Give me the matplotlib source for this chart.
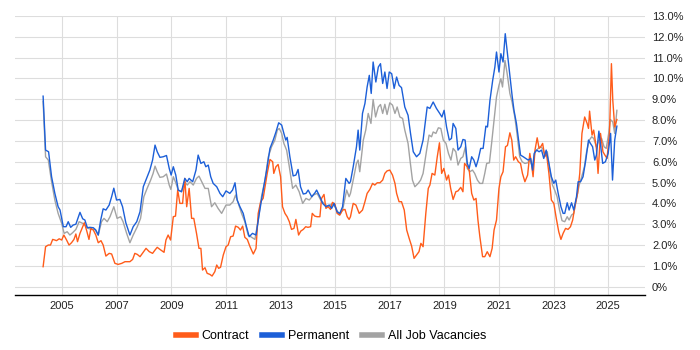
import matplotlib
matplotlib.use("Agg")
import matplotlib.pyplot as plt
from matplotlib.lines import Line2D

plt.rcParams['font.family'] = ['Liberation Sans', 'DejaVu Sans']

# ---- data (decimal years, percent) ----
perm_t = [2004.30, 2004.39, 2004.50, 2004.61, 2004.73, 2004.85, 2004.92, 2005.04, 2005.14, 2005.22,
          2005.31, 2005.40, 2005.50, 2005.65, 2005.75, 2005.83, 2005.92, 2006.01, 2006.14, 2006.23,
          2006.32, 2006.41, 2006.50, 2006.60, 2006.72, 2006.81, 2006.89, 2006.99, 2007.11, 2007.21,
          2007.33, 2007.48, 2007.60, 2007.73, 2007.85, 2007.97, 2008.09, 2008.21, 2008.31, 2008.40,
          2008.48, 2008.58, 2008.70, 2008.82, 2008.92, 2008.99, 2009.07, 2009.16, 2009.25, 2009.37,
          2009.49, 2009.58, 2009.65, 2009.78, 2009.90, 2009.98, 2010.08, 2010.19, 2010.26, 2010.35,
          2010.44, 2010.53, 2010.66, 2010.78, 2010.88, 2011.00, 2011.14, 2011.24, 2011.33, 2011.41,
          2011.51, 2011.63, 2011.75, 2011.85, 2011.97, 2012.10, 2012.22, 2012.34, 2012.49, 2012.61,
          2012.73, 2012.83, 2012.93, 2013.04, 2013.12, 2013.19, 2013.24, 2013.34, 2013.46, 2013.56,
          2013.64, 2013.73, 2013.83, 2013.93, 2014.01, 2014.14, 2014.26, 2014.32, 2014.44, 2014.54,
          2014.66, 2014.78, 2014.87, 2014.96, 2015.07, 2015.17, 2015.27, 2015.39, 2015.51, 2015.56,
          2015.66, 2015.78, 2015.84, 2015.90, 2016.00, 2016.09, 2016.17, 2016.25, 2016.32, 2016.39,
          2016.49, 2016.58, 2016.66, 2016.74, 2016.82, 2016.90, 2016.98, 2017.07, 2017.16, 2017.25,
          2017.34, 2017.43, 2017.55, 2017.67, 2017.76, 2017.86, 2017.98, 2018.10, 2018.22, 2018.37,
          2018.47, 2018.59, 2018.71, 2018.83, 2018.91, 2018.99, 2019.08, 2019.18, 2019.26, 2019.32,
          2019.42, 2019.50, 2019.60, 2019.68, 2019.76, 2019.84, 2019.91, 2020.00, 2020.08, 2020.16,
          2020.24, 2020.33, 2020.42, 2020.52, 2020.58, 2020.67, 2020.77, 2020.85, 2020.91, 2021.00,
          2021.07, 2021.15, 2021.23, 2021.31, 2021.40, 2021.48, 2021.55, 2021.64, 2021.71, 2021.79,
          2021.89, 2021.98, 2022.07, 2022.16, 2022.23, 2022.29, 2022.38, 2022.47, 2022.56, 2022.64,
          2022.73, 2022.83, 2022.92, 2023.01, 2023.08, 2023.17, 2023.27, 2023.35, 2023.41, 2023.50,
          2023.57, 2023.66, 2023.74, 2023.84, 2023.90, 2023.99, 2024.08, 2024.18, 2024.28, 2024.35,
          2024.43, 2024.51, 2024.57, 2024.66, 2024.73, 2024.80, 2024.90, 2025.00, 2025.09, 2025.16,
          2025.24, 2025.32]
perm_v = [9.15, 6.56, 6.48, 5.28, 4.48, 3.84, 3.68, 2.88, 2.88, 3.12,
          2.85, 2.96, 3.00, 3.57, 3.26, 3.20, 2.83, 2.85, 2.83, 2.72,
          2.48, 3.20, 3.74, 3.68, 3.92, 4.32, 4.73, 4.16, 4.19, 3.84,
          3.07, 2.48, 2.88, 3.12, 3.60, 4.80, 5.20, 5.60, 6.08, 6.80,
          6.48, 6.21, 6.24, 6.30, 5.68, 5.36, 5.76, 5.36, 4.64, 4.56,
          5.20, 5.04, 5.20, 5.04, 5.60, 6.32, 5.92, 6.00, 5.76, 5.84,
          5.28, 4.96, 4.80, 4.48, 4.32, 4.60, 4.48, 4.64, 4.99, 4.16,
          3.84, 3.52, 2.88, 2.40, 2.56, 2.48, 3.52, 4.48, 5.60, 6.64,
          7.04, 7.43, 7.87, 7.76, 7.36, 7.04, 7.17, 6.24, 5.32, 5.36,
          5.63, 4.80, 4.45, 4.48, 4.64, 4.32, 4.51, 4.64, 4.32, 4.00,
          3.84, 3.92, 3.76, 4.00, 3.60, 3.52, 3.84, 5.20, 4.96, 5.04,
          5.76, 6.72, 7.52, 6.56, 8.32, 8.80, 9.59, 10.15, 9.28, 10.79,
          9.83, 10.55, 10.71, 9.76, 10.31, 9.52, 10.31, 10.23, 9.52, 10.07,
          9.67, 9.56, 8.63, 8.23, 7.36, 6.48, 6.24, 6.40, 7.04, 8.63,
          8.56, 8.87, 8.56, 8.32, 8.15, 8.47, 7.67, 7.04, 7.12, 7.84,
          7.60, 6.56, 6.72, 7.07, 7.04, 5.92, 5.68, 6.24, 6.08, 5.76,
          6.11, 6.64, 6.64, 7.71, 7.67, 8.95, 9.91, 10.55, 11.27, 10.31,
          11.19, 10.79, 12.15, 11.19, 10.07, 9.19, 8.47, 7.84, 7.12, 6.32,
          6.24, 6.16, 6.08, 6.16, 5.60, 6.40, 6.56, 6.48, 6.56, 6.16,
          6.56, 5.92, 5.28, 4.96, 5.12, 4.48, 3.84, 3.52, 3.52, 4.03,
          3.68, 4.03, 3.68, 4.32, 5.04, 5.04, 5.28, 6.08, 7.04, 6.88,
          6.72, 6.08, 6.32, 7.47, 6.72, 5.92, 6.00, 6.40, 7.36, 5.12,
          7.04, 7.71]

contract_t = [2004.30, 2004.39, 2004.49, 2004.57, 2004.65, 2004.73, 2004.79, 2004.89, 2004.98, 2005.06,
              2005.16, 2005.25, 2005.34, 2005.43, 2005.50, 2005.56, 2005.65, 2005.75, 2005.81, 2005.89,
              2005.98, 2006.05, 2006.14, 2006.23, 2006.32, 2006.42, 2006.50, 2006.60, 2006.72, 2006.81,
              2006.93, 2007.05, 2007.18, 2007.30, 2007.48, 2007.58, 2007.66, 2007.75, 2007.85, 2007.94,
              2008.07, 2008.19, 2008.31, 2008.40, 2008.48, 2008.58, 2008.73, 2008.80, 2008.88, 2008.97,
              2009.07, 2009.15, 2009.23, 2009.31, 2009.41, 2009.49, 2009.56, 2009.65, 2009.74, 2009.82,
              2009.92, 2010.01, 2010.08, 2010.14, 2010.23, 2010.31, 2010.41, 2010.49, 2010.59, 2010.66,
              2010.73, 2010.80, 2010.90, 2011.00, 2011.08, 2011.17, 2011.26, 2011.35, 2011.45, 2011.53,
              2011.61, 2011.69, 2011.78, 2011.88, 2012.00, 2012.10, 2012.18, 2012.27, 2012.36, 2012.43,
              2012.51, 2012.61, 2012.71, 2012.75, 2012.83, 2012.91, 2013.00, 2013.07, 2013.16, 2013.24,
              2013.32, 2013.40, 2013.49, 2013.56, 2013.66, 2013.74, 2013.83, 2013.92, 2014.00, 2014.10,
              2014.16, 2014.25, 2014.34, 2014.44, 2014.50, 2014.59, 2014.66, 2014.74, 2014.83, 2014.90,
              2014.99, 2015.07, 2015.17, 2015.27, 2015.36, 2015.44, 2015.51, 2015.56, 2015.66, 2015.76,
              2015.88, 2016.00, 2016.09, 2016.17, 2016.27, 2016.37, 2016.45, 2016.54, 2016.64, 2016.74,
              2016.82, 2016.90, 2017.00, 2017.10, 2017.19, 2017.25, 2017.34, 2017.43, 2017.53, 2017.62,
              2017.71, 2017.80, 2017.89, 2017.98, 2018.07, 2018.14, 2018.22, 2018.32, 2018.41, 2018.47,
              2018.55, 2018.65, 2018.74, 2018.82, 2018.90, 2018.98, 2019.08, 2019.15, 2019.23, 2019.32,
              2019.42, 2019.50, 2019.60, 2019.68, 2019.74, 2019.84, 2019.91, 2020.00, 2020.08, 2020.16,
              2020.23, 2020.30, 2020.40, 2020.48, 2020.57, 2020.67, 2020.75, 2020.82, 2020.91, 2021.00,
              2021.07, 2021.15, 2021.24, 2021.31, 2021.40, 2021.47, 2021.54, 2021.61, 2021.71, 2021.79,
              2021.86, 2021.95, 2022.05, 2022.13, 2022.19, 2022.25, 2022.32, 2022.40, 2022.47, 2022.53,
              2022.60, 2022.68, 2022.74, 2022.83, 2022.92, 2023.01, 2023.10, 2023.19, 2023.27, 2023.35,
              2023.44, 2023.53, 2023.62, 2023.70, 2023.78, 2023.88, 2023.96, 2024.04, 2024.14, 2024.23,
              2024.28, 2024.32, 2024.41, 2024.47, 2024.57, 2024.63, 2024.72, 2024.81, 2024.88, 2024.96,
              2025.05, 2025.12, 2025.17, 2025.24, 2025.32]
contract_v = [0.96, 1.92, 2.00, 2.00, 2.27, 2.24, 2.21, 2.30, 2.24, 2.48,
              2.24, 2.00, 2.11, 2.27, 2.53, 2.16, 2.56, 2.88, 3.07, 2.72,
              2.27, 2.80, 2.72, 2.48, 2.11, 2.21, 2.00, 1.47, 1.60, 1.57,
              1.12, 1.07, 1.12, 1.20, 1.20, 1.31, 1.60, 1.55, 1.44, 1.60,
              1.84, 1.68, 1.60, 1.76, 1.89, 1.79, 1.65, 2.24, 2.48, 2.24,
              3.36, 3.39, 4.64, 4.00, 4.00, 5.20, 3.84, 4.72, 3.28, 3.28,
              2.56, 1.84, 1.84, 0.80, 0.91, 0.64, 0.59, 0.51, 0.72, 1.04,
              0.88, 0.93, 1.52, 1.92, 2.00, 2.40, 2.43, 2.91, 2.85, 2.72,
              2.91, 2.37, 2.27, 1.92, 1.57, 1.84, 3.52, 4.08, 4.24, 4.80,
              5.44, 6.11, 6.00, 5.44, 5.76, 5.87, 5.28, 3.84, 3.52, 3.36,
              3.12, 2.75, 2.80, 3.23, 2.48, 2.67, 2.75, 2.88, 2.85, 2.88,
              3.52, 3.39, 3.36, 3.36, 4.24, 4.43, 3.76, 3.84, 3.71, 4.05,
              3.97, 3.52, 3.44, 3.68, 3.71, 3.36, 3.23, 3.36, 4.00, 3.92,
              3.52, 3.68, 4.08, 4.48, 4.67, 4.96, 4.88, 4.99, 4.99, 5.12,
              5.44, 5.56, 5.60, 5.36, 4.96, 4.48, 4.08, 4.08, 3.68, 2.72,
              2.32, 1.95, 1.36, 1.52, 1.68, 2.08, 1.92, 3.52, 4.72, 4.88,
              5.44, 5.36, 6.24, 6.91, 5.44, 5.68, 5.12, 5.36, 4.72, 4.19,
              4.56, 4.60, 4.77, 4.56, 5.92, 5.76, 5.60, 4.48, 4.16, 4.24,
              3.20, 2.40, 1.44, 1.44, 1.68, 1.44, 1.84, 2.72, 3.20, 4.72,
              5.28, 5.52, 6.72, 6.78, 7.39, 7.04, 6.08, 6.24, 6.00, 5.92,
              5.44, 5.04, 5.36, 6.40, 5.92, 5.28, 6.56, 7.15, 6.64, 6.72,
              6.88, 6.24, 6.40, 5.44, 4.16, 4.00, 3.28, 2.64, 2.27, 2.56,
              2.80, 2.75, 2.88, 3.20, 3.84, 4.48, 5.44, 7.36, 8.15, 7.84,
              7.60, 8.43, 7.28, 7.52, 6.64, 5.44, 7.36, 6.48, 6.32, 6.16,
              7.36, 10.71, 8.95, 7.67, 8.03]

all_t = [2004.30, 2004.39, 2004.49, 2004.61, 2004.73, 2004.85, 2004.98, 2005.07, 2005.18, 2005.28,
         2005.38, 2005.50, 2005.62, 2005.75, 2005.83, 2005.95, 2006.08, 2006.20, 2006.32, 2006.44,
         2006.53, 2006.65, 2006.75, 2006.89, 2007.01, 2007.14, 2007.23, 2007.36, 2007.48, 2007.60,
         2007.75, 2007.87, 2007.99, 2008.11, 2008.24, 2008.33, 2008.40, 2008.48, 2008.58, 2008.70,
         2008.82, 2008.92, 2008.98, 2009.07, 2009.16, 2009.25, 2009.37, 2009.49, 2009.58, 2009.68,
         2009.80, 2009.92, 2010.01, 2010.11, 2010.23, 2010.35, 2010.47, 2010.59, 2010.71, 2010.84,
         2011.00, 2011.14, 2011.26, 2011.35, 2011.45, 2011.57, 2011.69, 2011.81, 2011.94, 2012.06,
         2012.18, 2012.30, 2012.43, 2012.55, 2012.67, 2012.79, 2012.88, 2012.95, 2013.04, 2013.12,
         2013.22, 2013.32, 2013.44, 2013.56, 2013.68, 2013.81, 2013.93, 2014.05, 2014.20, 2014.34,
         2014.47, 2014.59, 2014.74, 2014.90, 2015.03, 2015.15, 2015.27, 2015.42, 2015.51, 2015.56,
         2015.66, 2015.78, 2015.84, 2015.90, 2016.03, 2016.12, 2016.21, 2016.31, 2016.39, 2016.48,
         2016.58, 2016.66, 2016.74, 2016.82, 2016.90, 2017.00, 2017.10, 2017.19, 2017.27, 2017.37,
         2017.47, 2017.55, 2017.67, 2017.74, 2017.83, 2017.92, 2018.04, 2018.13, 2018.22, 2018.35,
         2018.44, 2018.53, 2018.59, 2018.69, 2018.78, 2018.87, 2018.96, 2019.06, 2019.15, 2019.24,
         2019.32, 2019.42, 2019.50, 2019.60, 2019.68, 2019.77, 2019.84, 2019.93, 2020.03, 2020.11,
         2020.21, 2020.30, 2020.40, 2020.48, 2020.55, 2020.65, 2020.73, 2020.82, 2020.91, 2021.00,
         2021.07, 2021.13, 2021.22, 2021.30, 2021.40, 2021.48, 2021.58, 2021.66, 2021.76, 2021.85,
         2021.95, 2022.05, 2022.13, 2022.23, 2022.32, 2022.40, 2022.50, 2022.60, 2022.68, 2022.77,
         2022.86, 2022.96, 2023.04, 2023.13, 2023.22, 2023.31, 2023.41, 2023.50, 2023.57, 2023.66,
         2023.74, 2023.84, 2023.94, 2024.03, 2024.13, 2024.21, 2024.31, 2024.40, 2024.47, 2024.57,
         2024.66, 2024.76, 2024.85, 2024.93, 2025.02, 2025.08, 2025.17, 2025.24, 2025.32]
all_v = [8.90, 6.24, 6.08, 5.04, 4.16, 3.52, 3.04, 2.56, 2.64, 2.48,
         2.59, 2.75, 3.12, 3.04, 2.96, 2.80, 2.75, 2.75, 2.48, 3.12,
         3.28, 3.12, 3.36, 3.84, 3.28, 3.36, 3.12, 2.56, 2.11, 2.48,
         2.88, 3.28, 4.32, 4.72, 5.12, 5.44, 5.79, 5.52, 5.25, 5.28,
         5.41, 4.88, 4.67, 5.28, 4.99, 4.64, 4.56, 5.04, 4.88, 5.04,
         4.88, 5.20, 5.31, 5.04, 4.72, 4.72, 3.84, 4.03, 3.76, 3.52,
         3.92, 3.92, 4.08, 4.40, 4.00, 3.52, 3.12, 2.48, 2.37, 2.27,
         3.20, 4.32, 5.12, 6.24, 6.72, 7.04, 7.52, 7.60, 7.36, 6.88,
         6.56, 5.76, 4.72, 4.88, 4.56, 4.00, 4.24, 4.16, 4.40, 4.48,
         4.16, 4.00, 3.84, 4.00, 3.76, 3.44, 3.68, 4.64, 4.32, 4.48,
         5.12, 5.92, 6.08, 5.52, 7.04, 7.52, 8.32, 7.84, 8.99, 8.15,
         8.63, 8.75, 8.32, 8.76, 8.27, 8.83, 8.72, 8.32, 8.63, 8.15,
         8.08, 7.52, 6.88, 6.08, 5.12, 4.80, 4.96, 5.12, 5.44, 6.56,
         7.28, 7.20, 7.43, 7.36, 7.63, 7.60, 7.04, 6.88, 6.40, 6.08,
         6.64, 6.48, 5.84, 6.16, 6.24, 6.72, 5.68, 5.52, 5.60, 5.44,
         5.12, 4.96, 4.96, 5.44, 5.92, 5.95, 6.88, 8.00, 9.11, 9.67,
         9.99, 9.59, 10.87, 10.23, 9.28, 8.87, 8.15, 7.36, 6.24, 6.00,
         5.92, 5.95, 6.08, 5.76, 6.48, 6.59, 6.72, 6.64, 6.32, 6.48,
         5.60, 4.88, 4.64, 4.32, 3.68, 3.17, 3.12, 3.36, 3.20, 3.44,
         3.52, 4.24, 4.88, 5.28, 5.76, 6.48, 7.04, 7.20, 7.12, 6.72,
         7.04, 7.12, 6.72, 6.64, 7.36, 8.03, 7.91, 7.36, 8.47]

year_ticks = [2005, 2007, 2009, 2011, 2013, 2015, 2017, 2019, 2021, 2023, 2025]
pct_ticks = list(range(0, 14))

c_contract = '#ff5c1a'
c_perm = '#1c5fd8'
c_all = '#a3a3a3'

fig = plt.figure(figsize=(7, 3.5), dpi=100)
ax = fig.add_axes([15/700, 1 - 295/350, 630/700, 279/350])

ax.plot(all_t, all_v, color=c_all, lw=1.0, zorder=3)
ax.plot(contract_t, contract_v, color=c_contract, lw=1.0, zorder=4)
ax.plot(perm_t, perm_v, color=c_perm, lw=1.0, zorder=5)

ax.set_xlim(2003.27, 2026.35)
ax.set_ylim(-0.4, 13.0)

ax.set_xticks(year_ticks)
ax.set_xticklabels([str(y) for y in year_ticks])
ax.set_yticks(pct_ticks)
ax.set_yticklabels(['0%'] + ['%.1f%%' % v for v in pct_ticks[1:]])
ax.yaxis.tick_right()
ax.tick_params(axis='y', length=0, pad=5, labelsize=8, colors='#222222')
ax.tick_params(axis='x', length=0, pad=4, labelsize=8, colors='#222222')
for lab in ax.get_yticklabels():
    lab.set_horizontalalignment('left')

ax.grid(True, color='#dddddd', lw=0.8, zorder=0)
for s in ['top', 'left', 'right']:
    ax.spines[s].set_visible(False)
ax.spines['bottom'].set_color('#000000')
ax.spines['bottom'].set_linewidth(1.0)

handles = [Line2D([], [], color=c_contract, lw=4),
           Line2D([], [], color=c_perm, lw=4),
           Line2D([], [], color=c_all, lw=4)]
fig.legend(handles, ['Contract', 'Permanent', 'All Job Vacancies'],
           loc='center', bbox_to_anchor=(331/700, 1 - 336/350), ncol=3,
           frameon=False, fontsize=9, handlelength=1.6, handletextpad=0.5,
           columnspacing=1.0)

fig.savefig('out.png', dpi=100)
